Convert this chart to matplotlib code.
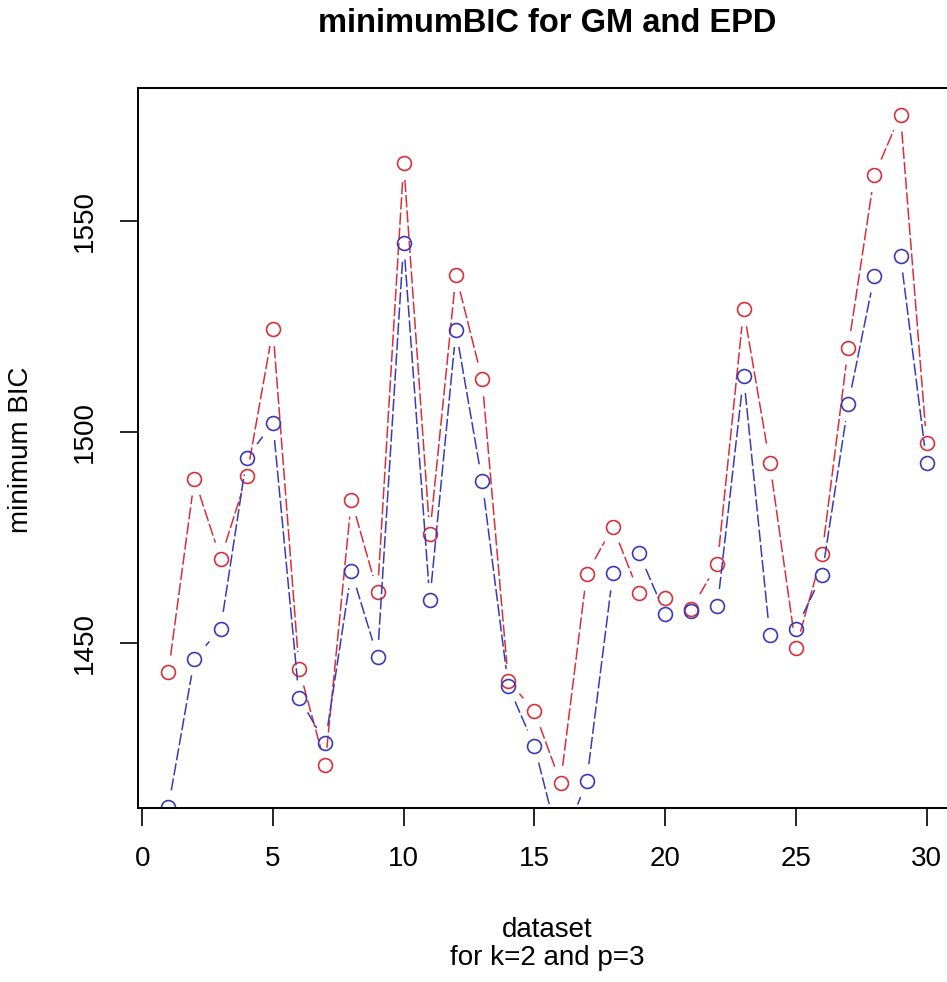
import matplotlib
matplotlib.use('Agg')
import matplotlib.pyplot as plt
import numpy as np

plt.rcParams['font.family'] = ['Liberation Sans', 'DejaVu Sans']

# values
dataset = np.arange(1, 31)
bic_epd = [1442.9, 1488.9, 1469.9, 1489.5, 1524.4, 1443.7, 1421.0, 1483.9, 1461.9, 1563.9,
           1475.8, 1537.3, 1512.5, 1440.9, 1433.7, 1416.7, 1466.3, 1477.5, 1461.7, 1460.6,
           1458.0, 1468.7, 1529.1, 1492.7, 1448.7, 1471.0, 1520.0, 1561.0, 1575.4, 1497.4]
bic_gm = [1410.9, 1446.2, 1453.3, 1493.9, 1502.1, 1436.9, 1426.2, 1466.9, 1446.6, 1545.0,
          1460.1, 1524.2, 1488.3, 1439.7, 1425.4, 1401.0, 1417.1, 1466.4, 1471.2, 1456.8,
          1457.5, 1458.7, 1513.3, 1451.8, 1453.2, 1466.1, 1506.6, 1537.1, 1541.9, 1492.7]
x_ticks = [0, 5, 10, 15, 20, 25, 30]
y_ticks = [1450, 1500, 1550]

red = '#d8303a'
blue = '#3a3ab8'

fig = plt.figure(figsize=(9.47, 9.82), dpi=100)
# plot region runs past the right edge, like the cropped original
ax = fig.add_axes([138 / 947, 1 - 808 / 982, (957 - 138) / 947, (808 - 88) / 982])
ax.set_xlim(-0.16, 31.16)
ax.set_ylim(1410.7, 1581.7)


def draw_b(ax, x, y, color, gap=17):
    # R type="b": dashed segments that stop short of each point
    pts = ax.transData.transform(np.column_stack([x, y]))
    inv = ax.transData.inverted()
    for p0, p1 in zip(pts[:-1], pts[1:]):
        d = p1 - p0
        length = np.hypot(*d)
        if length <= 2 * gap:
            continue
        u = d / length
        a = inv.transform(p0 + u * gap)
        b = inv.transform(p1 - u * gap)
        ax.plot([a[0], b[0]], [a[1], b[1]], color=color, lw=1.1, dashes=(8, 2))
    ax.plot(x, y, 'o', ms=10, mfc='none', mec=color, mew=1.2)


draw_b(ax, dataset, bic_epd, red)
draw_b(ax, dataset, bic_gm, blue)

ax.set_xticks(x_ticks)
ax.set_xticklabels([str(t) for t in x_ticks])
ax.set_yticks(y_ticks)
ax.set_yticklabels([str(t) for t in y_ticks], rotation=90, va='center')
ax.tick_params(axis='both', length=13, width=1.2, labelsize=20, color='black')
ax.tick_params(axis='x', pad=14)
ax.tick_params(axis='y', pad=16)
for s in ax.spines.values():
    s.set_linewidth(1.4)

fig.text(547 / 947, 1 - 24 / 982, 'minimumBIC for GM and EPD', ha='center', va='center',
         fontsize=23.5, fontweight='bold')
fig.text(21 / 947, 1 - 450 / 982, 'minimum BIC', rotation=90, ha='center', va='center', fontsize=20)
fig.text(547 / 947, 1 - 930 / 982, 'dataset', ha='center', va='center', fontsize=20)
fig.text(547 / 947, 1 - 958 / 982, 'for k=2 and p=3', ha='center', va='center', fontsize=20)

fig.savefig('out.png', dpi=100)
